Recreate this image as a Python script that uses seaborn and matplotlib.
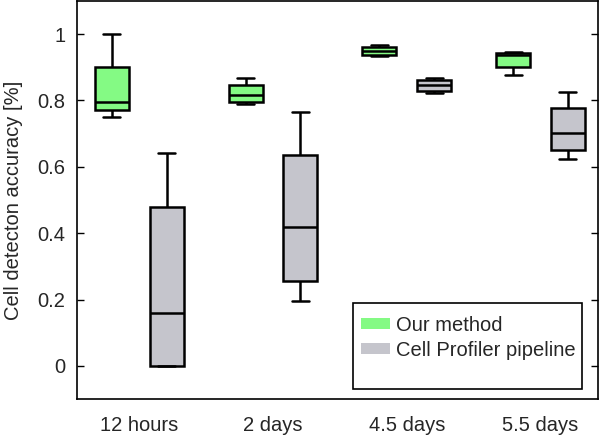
import numpy as np
import pandas as pd
import seaborn as sns
import matplotlib.pyplot as plt
from matplotlib.patches import Patch, Rectangle

# ---- data (five-number summaries: min, q1, median, q3, max)
categories = ["12 hours", "2 days", "4.5 days", "5.5 days"]
methods = ["Our method", "Cell Profiler pipeline"]

ours_12h = [0.750, 0.770, 0.795, 0.900, 1.000]
ours_2d = [0.790, 0.795, 0.818, 0.846, 0.869]
ours_45d = [0.933, 0.937, 0.950, 0.962, 0.967]
ours_55d = [0.876, 0.900, 0.937, 0.944, 0.946]

cp_12h = [0.000, 0.000, 0.158, 0.480, 0.643]
cp_2d = [0.194, 0.257, 0.420, 0.637, 0.765]
cp_45d = [0.823, 0.828, 0.846, 0.863, 0.869]
cp_55d = [0.624, 0.652, 0.702, 0.777, 0.826]

yticks = [0, 0.2, 0.4, 0.6, 0.8, 1]
yticklabels = ["0", "0.2", "0.4", "0.6", "0.8", "1"]

series = {
    "Our method": [ours_12h, ours_2d, ours_45d, ours_55d],
    "Cell Profiler pipeline": [cp_12h, cp_2d, cp_45d, cp_55d],
}
rows = []
for m in methods:
    for cat, vals in zip(categories, series[m]):
        for v in vals:
            rows.append({"time": cat, "method": m, "acc": v})
df = pd.DataFrame(rows)

colors = {"Our method": "#84FA84", "Cell Profiler pipeline": "#C5C5CC"}

sns.set_style("white")
plt.rcParams["font.family"] = ["Liberation Sans", "DejaVu Sans"]
FS = 14.5

fig = plt.figure(figsize=(6.0, 4.38), dpi=100)
ax = fig.add_axes([0.1275, 0.089, 0.8692, 0.9088])

sns.boxplot(data=df, x="time", y="acc", hue="method", order=categories,
            hue_order=methods, palette=colors, whis=(0, 100), width=0.82,
            gap=0.38, linecolor="black", linewidth=1.8, saturation=1,
            legend=False, ax=ax)

ax.set_ylim(-0.1, 1.1)
ax.set_xlim(-0.47, 3.43)
ax.set_yticks(yticks)
ax.set_yticklabels(yticklabels)
ax.set_xlabel("")
ax.set_ylabel("Cell detecton accuracy [%]", fontsize=FS)
ax.yaxis.set_label_coords(-0.103, 0.5)

ax.tick_params(axis="y", direction="in", left=True, right=True, length=5,
               width=1, labelsize=FS, pad=8, color="black")
ax.tick_params(axis="x", length=0, labelsize=FS, pad=12)
for s in ax.spines.values():
    s.set_visible(True)
    s.set_color("black")
    s.set_linewidth(1.2)

# legend frame (drawn as a rectangle so its padding can match the reference)
ax.add_patch(Rectangle((0.530, 0.025), 0.439, 0.216, transform=ax.transAxes,
                       facecolor="white", edgecolor="black", linewidth=1.2,
                       zorder=4))
handles = [Patch(facecolor=colors[m], edgecolor="none", label=m) for m in methods]
leg = ax.legend(handles=handles, loc="upper left", bbox_to_anchor=(0.5455, 0.209),
                frameon=False, fontsize=FS, handlelength=1.45,
                handleheight=0.5, borderpad=0, borderaxespad=0,
                labelspacing=0.3, handletextpad=0.3)
leg.set_zorder(5)

fig.savefig("out.png", dpi=100)
